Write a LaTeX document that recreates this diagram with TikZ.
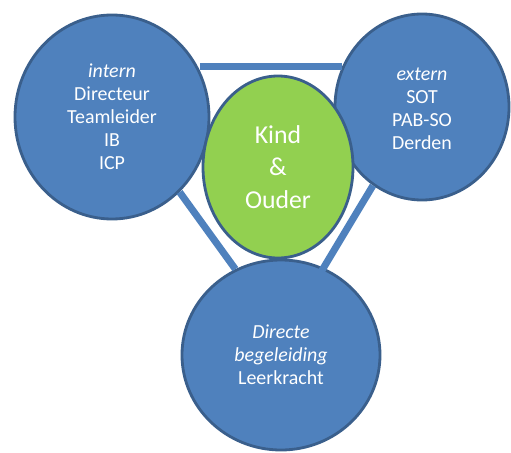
\documentclass[tikz,border=0pt]{standalone}
\usepackage{fontspec}
\setmainfont{Carlito}
\usepackage{tikz}
\usetikzlibrary{shapes.geometric, calc}

\definecolor{vulblauw}{HTML}{4F81BD}
\definecolor{randblauw}{HTML}{3A5F8C}
\definecolor{vulgroen}{HTML}{92D050}

\begin{document}
\begin{tikzpicture}[
    x=0.03cm, y=-0.03cm,
    cirkel/.style={ellipse, draw=randblauw, line width=2.4pt, fill=vulblauw, inner sep=0pt, align=center, text=white, font=\fontsize{17}{19.6}\selectfont},
    kern/.style={ellipse, draw=randblauw, line width=2.4pt, fill=vulgroen, inner sep=0pt, align=center, text=white, font=\fontsize{22}{27.5}\selectfont},
    verbinding/.style={draw=vulblauw, line width=6pt}
]
\useasboundingbox (0,0) rectangle (511,452);

\node[cirkel, minimum width=5.82cm, minimum height=6.12cm] (intern) at (112,117) {\textit{intern}\\Directeur\\Teamleider\\IB\\ICP};
\node[cirkel, minimum width=5.22cm, minimum height=5.58cm] (extern) at (422,107) {\\[-6pt]\textit{extern}\\SOT\\PAB-SO\\Derden};
\node[kern, minimum width=4.5cm, minimum height=5.46cm] (kind) at (278,167) {Kind\\\&\\Ouder};
\node[cirkel, minimum width=5.94cm, minimum height=5.7cm] (leerkracht) at (281,355) {\\[-8pt]\textit{Directe}\\\textit{begeleiding}\\Leerkracht};

% Lijnen
\draw[verbinding] (extern.153 -| intern.28) -- (extern.153);
\draw[verbinding] (intern.-48) -- (leerkracht.118);
\draw[verbinding, shorten >=-10pt] (extern.-122) -- (leerkracht.64);

\end{tikzpicture}
\end{document}
